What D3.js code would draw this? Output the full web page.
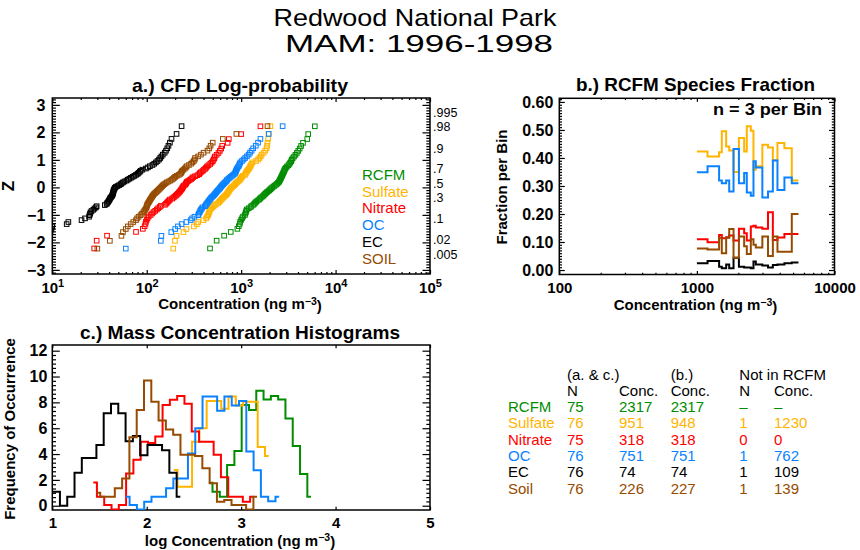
<!DOCTYPE html>
<html>
<head>
<meta charset="utf-8">
<script src="https://cdn.jsdelivr.net/npm/d3@7"></script>
<style>
  body { margin: 0; background: #fff; }
  svg { display: block; }
  text { font-family: "Liberation Sans", Arial, sans-serif; }
</style>
</head>
<body>
<div id="chart"></div>
<script>
// species, in legend order
const speciesNames  = ['RCFM', 'Sulfate', 'Nitrate', 'OC', 'EC', 'Soil'];
const legendLabels  = ['RCFM', 'Sulfate', 'Nitrate', 'OC', 'EC', 'SOIL'];
const speciesColors = ['#008c00', '#ffb400', '#ff0000', '#0a82ff', '#000000', '#964b00'];

// a.) sorted daily concentrations (ng/m3)
const concRCFM = [468, 550, 660, 776, 912, 944, 966, 977, 1000, 1023, 1047, 1096, 1109, 1122, 1135, 1148, 1202, 1259, 1288, 1349,
  1380, 1413, 1445, 1496, 1549, 1585, 1622, 1679, 1718, 1758, 1799, 1841, 1884, 1950, 1995, 2042, 2089, 2138, 2213, 2265,
  2344, 2399, 2455, 2512, 2541, 2570, 2600, 2630, 2661, 2692, 2723, 2754, 2786, 2818, 2851, 2884, 2917, 2985, 3055, 3162,
  3236, 3311, 3388, 3428, 3508, 3631, 3758, 3890, 4027, 4169, 4315, 4519, 5012, 5129, 6026];
const concSulfate = [191, 199, 207, 245, 263, 316, 339, 351, 398, 426, 436, 447, 452, 458, 462, 468, 480, 495, 510, 525,
  545, 572, 585, 598, 610, 625, 640, 655, 670, 690, 705, 715, 725, 735, 745, 755, 770, 785, 805, 825,
  845, 865, 880, 900, 925, 950, 970, 985, 1000, 1020, 1040, 1100, 1110, 1125, 1140, 1160, 1185, 1210, 1230, 1250,
  1270, 1290, 1320, 1440, 1510, 1560, 1610, 1650, 1730, 1800, 1860, 1880, 1900, 1930, 1950, 2040];
const concNitrate = [27.8, 29.5, 38, 77, 91, 95, 97, 98, 100, 102, 105, 110, 114, 118, 123, 128, 132, 137, 141, 156,
  160, 164, 168, 172, 176, 186, 192, 197, 203, 208, 213, 218, 222, 226, 230, 234, 238, 240, 243, 248,
  256, 260, 263, 266, 275, 285, 295, 303, 310, 325, 345, 360, 365, 375, 390, 400, 415, 425, 435, 450,
  470, 485, 500, 510, 520, 525, 550, 575, 595, 615, 630, 720, 740, 1000, 1600];
const concOC = [60, 141, 143, 182, 200, 214, 234, 263, 292, 302, 320, 350, 356, 362, 368, 375, 382, 390, 414, 422,
  430, 438, 446, 455, 463, 472, 480, 490, 505, 515, 525, 535, 545, 555, 565, 578, 590, 600, 610, 620,
  632, 645, 660, 675, 690, 705, 712, 735, 755, 775, 800, 825, 850, 865, 875, 885, 892, 905, 920, 940,
  955, 965, 980, 1020, 1060, 1100, 1150, 1200, 1240, 1290, 1340, 1430, 1510, 1600, 1960, 2750];
const concEC = [5, 7, 8.5, 9.6, 9.8, 10.0, 14.2, 14.8, 20.4, 22.2, 24.5, 24.8, 25.1, 25.4, 26, 27.2, 28, 29, 29.5, 36,
  37.6, 38.2, 39, 39.6, 40.2, 40.7, 41.2, 42, 42.8, 43.3, 43.6, 44, 44.2, 44.4, 44.6, 45, 45.5, 46, 47, 49,
  51, 53, 54.2, 56, 58, 61, 63, 65.5, 68, 71, 74, 77, 80, 82, 84.5, 86, 90, 98, 103, 108,
  115, 120, 125, 130, 135, 139, 143, 148, 155, 160, 165, 170, 176, 183, 207, 234];
const concSoil = [30, 40.7, 54, 56, 60, 63, 67.6, 72, 77, 79, 82, 86, 89, 92, 94, 96, 98, 99.5, 100, 101,
  102, 103.7, 105.5, 107, 108.5, 110, 112, 113.5, 115, 117, 119, 122, 125, 128, 131, 134, 137, 140, 143, 146,
  149, 153, 158, 163, 170, 178, 184, 190, 195, 200, 208, 218, 226, 232, 234, 238, 245, 253, 260, 265,
  280, 295, 305, 315, 322, 325, 350, 375, 400, 440, 460, 475, 500, 640, 890, 1900];
const concAll = [concRCFM, concSulfate, concNitrate, concOC, concEC, concSoil];

const probTicks  = [0.995, 0.98, 0.9, 0.7, 0.5, 0.3, 0.1, 0.02, 0.005];
const probLabels = ['.995', '.98', '.9', '.7', '.5', '.3', '.1', '.02', '.005'];

// b.) species fraction of RCFM per bin of RCFM concentration
const fracEdges   = [1000, 1195, 1450, 1517, 1632, 1717, 1846, 2020, 2205, 2305, 2465, 2577, 2680, 2990, 3285, 3565, 3850, 4325, 4893, 5470];
const fracSulfate = [0.423, 0.405, 0.42, 0.495, 0.441, 0.427, 0.35, 0.471, 0.423, 0.513, 0.497, 0.358, 0.37, 0.447, 0.437, 0.392, 0.453, 0.435, 0.32];
const fracNitrate = [0.11, 0.099, 0.125, 0.113, 0.117, 0.123, 0.105, 0.147, 0.131, 0.105, 0.155, 0.158, 0.152, 0.147, 0.206, 0.107, 0.116, 0.129, 0.129];
const fracOC      = [0.349, 0.37, 0.32, 0.31, 0.32, 0.28, 0.432, 0.31, 0.346, 0.277, 0.265, 0.388, 0.366, 0.259, 0.28, 0.391, 0.286, 0.33, 0.31];
const fracEC      = [0.024, 0.032, 0.012, 0.006, 0.02, 0.006, 0.044, 0.012, 0.009, 0.009, 0.006, 0.03, 0.02, 0.016, 0.009, 0.018, 0.02, 0.024, 0.027];
const fracSoil    = [0.077, 0.073, 0.115, 0.06, 0.115, 0.146, 0.044, 0.12, 0.085, 0.057, 0.11, 0.09, 0.08, 0.12, 0.05, 0.12, 0.065, 0.065, 0.2];

// c.) histograms of log concentration: first bin centre per species + counts
const histBin    = 0.07725;
const histStarts = [2.658, 2.287, 1.434, 1.78, 0.965, 1.469];
const histRCFM    = [1.78, 1.08, 0.7, 3.15, 4.23, 7.8, 7.4, 8.9, 8.23, 8.5, 8.23, 6.76, 4.62, 2.45, 0.7];
const histSulfate = [2.76, 1.47, 1.47, 4.95, 6.0, 8.1, 8.1, 7.5, 8.45, 7.75, 8.05, 8.05, 4.55, 3.85];
const histNitrate = [1.8, 0.7, 0.05, -0.3, 0.05, 2.5, 3.55, 4.95, 4.85, 5.35, 7.8, 8.2, 8.5, 7.9, 5.75, 4.95, 4.95, 3.95, 2.2, 0.7, 0.7, 0.3, 0.7];
const histOC      = [0.7, 0.05, -0.3, 0.3, 0.7, 0.7, 1.35, 2.1, 2.1, 4.05, 6.0, 8.45, 8.45, 7.35, 8.45, 7.75, 8.1, 4.2, 2.75, 0.7, 0.35, 0.7];
const histEC      = [1.08, 1.08, 0, 0.7, 2.55, 3.7, 3.7, 4.7, 7.15, 7.9, 7.15, 5.0, 5.4, 3.9, 4.7, 4.7, 4.3, 2.55, 0.7];
const histSoil    = [1.0, 0.7, 0.7, 1.35, 2.1, 5.3, 7.4, 9.7, 8.05, 6.6, 5.9, 5.5, 3.95, 3.95, 3.85, 2.9, 1.75, 0.3, 0.45, 0.05, 0.05, -0.3, 0.7];
const histAll = [histRCFM, histSulfate, histNitrate, histOC, histEC, histSoil];

// summary table
const tableLabels  = ['RCFM', 'Sulfate', 'Nitrate', 'OC', 'EC', 'Soil'];
const tableN       = ['75', '76', '75', '76', '76', '76'];
const tableConcAC  = ['2317', '951', '318', '751', '74', '226'];
const tableConcB   = ['2317', '948', '318', '751', '74', '227'];
const tableNotN    = ['\u2013', '1', '0', '1', '1', '1'];
const tableNotConc = ['\u2013', '1230', '0', '762', '109', '139'];

// inverse normal CDF (Acklam) for the probability axis
function probit(p) {
  const a = [-3.969683028665376e+01, 2.209460984245205e+02, -2.759285104469687e+02, 1.383577518672690e+02, -3.066479806614716e+01, 2.506628277459239e+00];
  const b = [-5.447609879822406e+01, 1.615858368580409e+02, -1.556989798598866e+02, 6.680131188771972e+01, -1.328068155288572e+01];
  const c = [-7.784894002430293e-03, -3.223964580411365e-01, -2.400758277161838e+00, -2.549732539343734e+00, 4.374664141464968e+00, 2.938163982698783e+00];
  const d = [7.784695709041462e-03, 3.224671290700398e-01, 2.445134137142996e+00, 3.754408661907416e+00];
  const pl = 0.02425;
  let q, r;
  if (p < pl) {
    q = Math.sqrt(-2 * Math.log(p));
    return (((((c[0]*q+c[1])*q+c[2])*q+c[3])*q+c[4])*q+c[5]) / ((((d[0]*q+d[1])*q+d[2])*q+d[3])*q+1);
  }
  if (p <= 1 - pl) {
    q = p - 0.5; r = q * q;
    return (((((a[0]*r+a[1])*r+a[2])*r+a[3])*r+a[4])*r+a[5])*q / (((((b[0]*r+b[1])*r+b[2])*r+b[3])*r+b[4])*r+1);
  }
  q = Math.sqrt(-2 * Math.log(1 - p));
  return -(((((c[0]*q+c[1])*q+c[2])*q+c[3])*q+c[4])*q+c[5]) / ((((d[0]*q+d[1])*q+d[2])*q+d[3])*q+1);
}

const svg = d3.select('#chart').append('svg').attr('width', 860).attr('height', 550);
const defs = svg.append('defs');

function clipFor(id, p) {
  defs.append('clipPath').attr('id', id).append('rect')
    .attr('x', p.l).attr('y', p.t).attr('width', p.r - p.l).attr('height', p.b - p.t);
  return 'url(#' + id + ')';
}

function txt(x, y, s, o = {}) {
  const t = svg.append('text').attr('x', x).attr('y', y).text(s)
    .attr('font-size', o.size || 15)
    .attr('font-weight', o.bold ? 'bold' : 'normal')
    .attr('fill', o.fill || '#000')
    .attr('text-anchor', o.anchor || 'start');
  if (o.len) t.attr('textLength', o.len).attr('lengthAdjust', 'spacingAndGlyphs');
  if (o.rot) t.attr('transform', `rotate(-90,${x},${y})`);
  return t;
}

function addAxis(axis, tx, ty, fontSize, bold) {
  const g = svg.append('g').attr('transform', `translate(${tx},${ty})`).call(axis);
  g.select('.domain').remove();
  g.attr('font-family', null).attr('font-size', null);
  g.selectAll('.tick line').attr('stroke', '#000').attr('stroke-width', 1.2);
  g.selectAll('.tick text').attr('fill', '#000')
    .attr('font-size', fontSize || 15).attr('font-weight', bold === false ? 'normal' : 'bold');
  return g;
}

function frame(p) {
  svg.append('rect').attr('x', p.l).attr('y', p.t).attr('width', p.r - p.l).attr('height', p.b - p.t)
    .attr('fill', 'none').attr('stroke', '#000').attr('stroke-width', 1.5);
}

function logMinor(lo, hi) {
  const out = [];
  for (let e = lo; e < hi; e++) for (let m = 2; m < 10; m++) out.push(m * Math.pow(10, e));
  return out;
}

function axisTitle(x, y, pre, sup, post, size) {
  const t = svg.append('text').attr('x', x).attr('y', y).attr('text-anchor', 'middle')
    .attr('font-size', size).attr('font-weight', 'bold');
  t.append('tspan').text(pre);
  t.append('tspan').attr('dy', '-0.4em').attr('font-size', size * 0.7).text(sup);
  t.append('tspan').attr('dy', '0.4em').text(post);
  return t;
}

// ---------- titles ----------
txt(415, 26, 'Redwood National Park', { size: 24, anchor: 'middle', len: 283 });
txt(419, 52, 'MAM: 1996-1998', { size: 24, anchor: 'middle', len: 268 });

// ---------- a.) CFD log-probability ----------
const pa = { l: 52.3, r: 430, t: 98, b: 274 };
const xA = d3.scaleLog().domain([10, 1e5]).range([pa.l, pa.r]);
const yA = d3.scaleLinear().domain([-3.15, 3.25]).range([pa.b, pa.t]);
const zMinor = d3.range(-31, 33).map(v => v / 10).filter(v => Math.abs(v - Math.round(v)) > 1e-6);

const gxA = addAxis(d3.axisBottom(xA).tickValues([10, 100, 1000, 1e4, 1e5]).tickSize(-4).tickPadding(8).tickFormat(() => ''), 0, pa.b, 15);
gxA.selectAll('.tick text').each(function (d) {
  const t = d3.select(this);
  t.append('tspan').text('10');
  t.append('tspan').attr('dy', '-0.5em').attr('font-size', 11).text(Math.round(Math.log10(d)));
});
addAxis(d3.axisBottom(xA).tickValues(logMinor(1, 5)).tickSize(-2).tickFormat(() => ''), 0, pa.b);
addAxis(d3.axisTop(xA).tickValues([10, 100, 1000, 1e4, 1e5]).tickSize(-4).tickFormat(() => ''), 0, pa.t);
addAxis(d3.axisTop(xA).tickValues(logMinor(1, 5)).tickSize(-2).tickFormat(() => ''), 0, pa.t);
addAxis(d3.axisLeft(yA).tickValues(d3.range(-3, 4)).tickSize(-7.5).tickPadding(7)
  .tickFormat(d => d < 0 ? '\u2212' + (-d) : String(d)), pa.l, 0, 16);
addAxis(d3.axisLeft(yA).tickValues(zMinor).tickSize(-3.7).tickFormat(() => ''), pa.l, 0);
addAxis(d3.axisRight(yA).tickValues(d3.range(-3, 4)).tickSize(-7.5).tickFormat(() => ''), pa.r, 0);
addAxis(d3.axisRight(yA).tickValues(zMinor).tickSize(-3.7).tickFormat(() => ''), pa.r, 0);
const gProb = addAxis(d3.axisRight(yA).tickValues(probTicks.map(probit)).tickSize(0).tickPadding(3)
  .tickFormat((d, i) => probLabels[i]), pa.r, 0, 12.5, false);
gProb.selectAll('.tick text').attr('dy', '0');
frame(pa);

const clipA = clipFor('clipA', pa);
concAll.forEach((vals, s) => {
  const n = vals.length;
  svg.append('g').attr('clip-path', clipA)
    .selectAll('rect').data(vals).join('rect')
    .attr('x', d => xA(d) - 2.3)
    .attr('y', (d, i) => yA(probit((i + 1) / (n + 1))) - 2.3)
    .attr('width', 4.6).attr('height', 4.6)
    .attr('fill', 'none').attr('stroke', speciesColors[s]).attr('stroke-width', 1);
});

legendLabels.forEach((lab, i) => {
  txt(362, 180 + i * 16.7, lab, { size: 15, fill: speciesColors[i] });
});

txt(240, 91.5, 'a.) CFD Log-probability', { size: 19, bold: true, anchor: 'middle', len: 216 });
axisTitle(240, 309, 'Concentration (ng m', '\u22123', ')', 15);
txt(13.5, 186, 'Z', { size: 17, bold: true, anchor: 'middle', rot: true });

// ---------- b.) RCFM species fraction ----------
const pb = { l: 559.3, r: 834.5, t: 98.3, b: 274.5 };
const xB = d3.scaleLog().domain([100, 10000]).range([pb.l, pb.r]);
const yB = d3.scaleLinear().domain([-0.016, 0.613]).range([pb.b, pb.t]);
const fracMajor = d3.range(0, 7).map(v => v / 10);
const fracMinor = d3.range(0, 62).map(v => v / 100).filter(v => Math.abs(v * 10 - Math.round(v * 10)) > 1e-6);

addAxis(d3.axisBottom(xB).tickValues([100, 1000, 10000]).tickSize(-3.5).tickPadding(8).tickFormat(d3.format('d')), 0, pb.b, 15);
addAxis(d3.axisBottom(xB).tickValues(logMinor(2, 4)).tickSize(-1.8).tickFormat(() => ''), 0, pb.b);
addAxis(d3.axisTop(xB).tickValues([100, 1000, 10000]).tickSize(-3.5).tickFormat(() => ''), 0, pb.t);
addAxis(d3.axisTop(xB).tickValues(logMinor(2, 4)).tickSize(-1.8).tickFormat(() => ''), 0, pb.t);
addAxis(d3.axisLeft(yB).tickValues(fracMajor).tickSize(-5.5).tickPadding(6).tickFormat(d3.format('.2f')), pb.l, 0, 16);
addAxis(d3.axisLeft(yB).tickValues(fracMinor).tickSize(-2.7).tickFormat(() => ''), pb.l, 0);
addAxis(d3.axisRight(yB).tickValues(fracMajor).tickSize(-5.5).tickFormat(() => ''), pb.r, 0);
addAxis(d3.axisRight(yB).tickValues(fracMinor).tickSize(-2.7).tickFormat(() => ''), pb.r, 0);
frame(pb);

const clipB = clipFor('clipB', pb);
const stepB = d3.line().x(d => xB(d[0])).y(d => yB(d[1])).curve(d3.curveStepAfter);
const fracSeries = [[fracSulfate, 1], [fracNitrate, 2], [fracOC, 3], [fracEC, 4], [fracSoil, 5]];
fracSeries.forEach(([vals, s]) => {
  const pts = fracEdges.map((e, i) => [e, vals[Math.min(i, vals.length - 1)]]);
  svg.append('path').attr('clip-path', clipB).attr('d', stepB(pts))
    .attr('fill', 'none').attr('stroke', speciesColors[s]).attr('stroke-width', 2);
});

txt(822, 115, 'n = 3 per Bin', { size: 16, bold: true, anchor: 'end', len: 109 });
txt(695.5, 90.5, 'b.) RCFM Species Fraction', { size: 19, bold: true, anchor: 'middle', len: 239 });
axisTitle(695.5, 310, 'Concentration (ng m', '\u22123', ')', 15);
txt(507, 187, 'Fraction per Bin', { size: 15, bold: true, anchor: 'middle', rot: true });

// ---------- c.) mass concentration histograms ----------
const pc = { l: 52.3, r: 430, t: 345, b: 510 };
const xC = d3.scaleLinear().domain([1, 5]).range([pc.l, pc.r]);
const yC = d3.scaleLinear().domain([-0.33, 12.44]).range([pc.b, pc.t]);
const freqMajor = d3.range(0, 13, 2);
const freqMinor = d3.range(0, 37).map(v => v * 2 / 6).filter(v => Math.abs(v / 2 - Math.round(v / 2)) > 1e-6 && v < 12.4);

addAxis(d3.axisBottom(xC).tickValues([1, 2, 3, 4, 5]).tickSize(-3.3).tickPadding(7).tickFormat(d3.format('d')), 0, pc.b, 15);
addAxis(d3.axisTop(xC).tickValues([1, 2, 3, 4, 5]).tickSize(-3.3).tickFormat(() => ''), 0, pc.t);
addAxis(d3.axisLeft(yC).tickValues(freqMajor).tickSize(-7.5).tickPadding(5).tickFormat(d3.format('d')), pc.l, 0, 16);
addAxis(d3.axisLeft(yC).tickValues(freqMinor).tickSize(-3.7).tickFormat(() => ''), pc.l, 0);
addAxis(d3.axisRight(yC).tickValues(freqMajor).tickSize(-7.5).tickFormat(() => ''), pc.r, 0);
addAxis(d3.axisRight(yC).tickValues(freqMinor).tickSize(-3.7).tickFormat(() => ''), pc.r, 0);
frame(pc);

const clipC = clipFor('clipC', pc);
const stepC = d3.line().x(d => xC(d[0])).y(d => yC(d[1])).curve(d3.curveStep);
histAll.forEach((vals, s) => {
  const pts = vals.map((v, i) => [histStarts[s] + i * histBin, v]);
  svg.append('path').attr('clip-path', clipC).attr('d', stepC(pts))
    .attr('fill', 'none').attr('stroke', speciesColors[s]).attr('stroke-width', 2);
});

txt(240, 338.5, 'c.) Mass Concentration Histograms', { size: 19, bold: true, anchor: 'middle', len: 320 });
axisTitle(240, 545.5, 'log Concentration (ng m', '\u22123', ')', 15);
txt(14.5, 429, 'Frequency of Occurrence', { size: 15, bold: true, anchor: 'middle', rot: true });

// ---------- summary table ----------
const colX = [508, 567, 619, 670.7, 739.3, 774];
const rowY0 = 411.7, rowStep = 16.4;
txt(colX[1], 380, '(a. & c.)', { size: 15 });
txt(colX[3], 380, '(b.)', { size: 15 });
txt(colX[4], 380, 'Not  in  RCFM', { size: 15 });
txt(colX[1], 396, 'N', { size: 15 });
txt(colX[2], 396, 'Conc.', { size: 15 });
txt(colX[3], 396, 'Conc.', { size: 15 });
txt(colX[4], 396, 'N', { size: 15 });
txt(colX[5], 396, 'Conc.', { size: 15 });
tableLabels.forEach((lab, i) => {
  const y = rowY0 + i * rowStep;
  const c = speciesColors[i];
  [lab, tableN[i], tableConcAC[i], tableConcB[i], tableNotN[i], tableNotConc[i]].forEach((v, j) => {
    txt(colX[j], y, v, { size: 15, fill: c });
  });
});
</script>
</body>
</html>
